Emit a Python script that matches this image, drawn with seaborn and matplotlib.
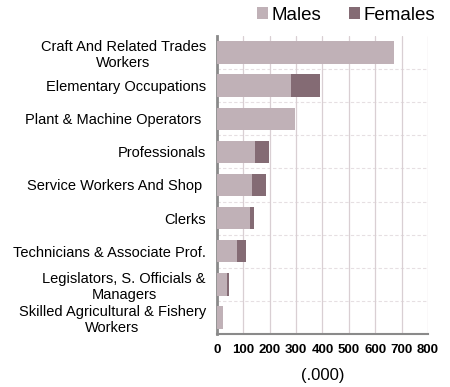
import numpy as np
import pandas as pd
import matplotlib
matplotlib.use("Agg")
import matplotlib.pyplot as plt
import seaborn as sns

sns.set_style("white")
plt.rcParams["font.family"] = ["Liberation Sans", "DejaVu Sans"]
plt.rcParams["text.color"] = "black"
plt.rcParams["xtick.labelcolor"] = "black"
plt.rcParams["ytick.labelcolor"] = "black"
plt.rcParams["axes.labelcolor"] = "black"

occupations = [
    "Craft And Related Trades\nWorkers",
    "Elementary Occupations",
    "Plant & Machine Operators ",
    "Professionals",
    "Service Workers And Shop ",
    "Clerks",
    "Technicians & Associate Prof.",
    "Legislators, S. Officials &\nManagers",
    "Skilled Agricultural & Fishery\nWorkers",
]
males = [672, 281, 295, 146, 132, 125, 77, 37, 25]
females = [0, 109, 0, 50, 56, 14, 33, 7, 0]

df = pd.DataFrame({"occ": occupations, "Males": males, "Females": females})
df["Total"] = df["Males"] + df["Females"]

c_male = "#c0b1b7"
c_female = "#846b74"

fig = plt.figure(figsize=(4.5, 3.87), dpi=100)
ax = fig.add_axes([0.482, 0.137, 0.469, 0.770])

sns.barplot(data=df, y="occ", x="Total", color=c_female, saturation=1,
            width=0.68, label="Females", linewidth=0, ax=ax, zorder=3)
sns.barplot(data=df, y="occ", x="Males", color=c_male, saturation=1,
            width=0.68, label="Males", linewidth=0, ax=ax, zorder=4)

ax.set_xlim(0, 800)
ax.set_xticks(np.arange(0, 801, 100))
ax.set_ylim(8.5, -0.5)
ax.set_yticks(np.arange(len(occupations)))
ax.set_yticklabels(occupations, fontsize=10.5, multialignment="center")
for lbl in ax.get_xticklabels():
    lbl.set_fontweight("bold")
    lbl.set_fontsize(9.5)
ax.tick_params(axis="y", length=0, pad=8)
ax.tick_params(axis="x", length=3, color="#888888", pad=4, direction="out")

ax.set_ylabel("")
ax.set_xlabel("(.000)", fontsize=12, labelpad=9)

# grid
ax.grid(axis="x", color="#d9cfd3", linewidth=0.9, zorder=0)
for yb in np.arange(0.5, 8.5, 1):
    ax.axhline(yb, color="#e6dfe2", linewidth=0.8, linestyle=(0, (3, 2)), zorder=0)

for side in ["top", "right"]:
    ax.spines[side].set_visible(False)
ax.spines["left"].set_color("#8a8a8a")
ax.spines["left"].set_linewidth(2)
ax.spines["bottom"].set_color("#8a8a8a")
ax.spines["bottom"].set_linewidth(1.5)

handles, labels = ax.get_legend_handles_labels()
if ax.get_legend() is not None:
    ax.get_legend().remove()
order = [labels.index("Males"), labels.index("Females")]
fig.legend([handles[i] for i in order], [labels[i] for i in order],
           loc="center right", bbox_to_anchor=(435 / 450, 1 - 15 / 387), ncol=2,
           frameon=False, fontsize=13.5, handlelength=0.55, handleheight=0.55,
           handletextpad=0.2, columnspacing=1.5, borderaxespad=0, borderpad=0)

fig.savefig("out.png", dpi=100)
